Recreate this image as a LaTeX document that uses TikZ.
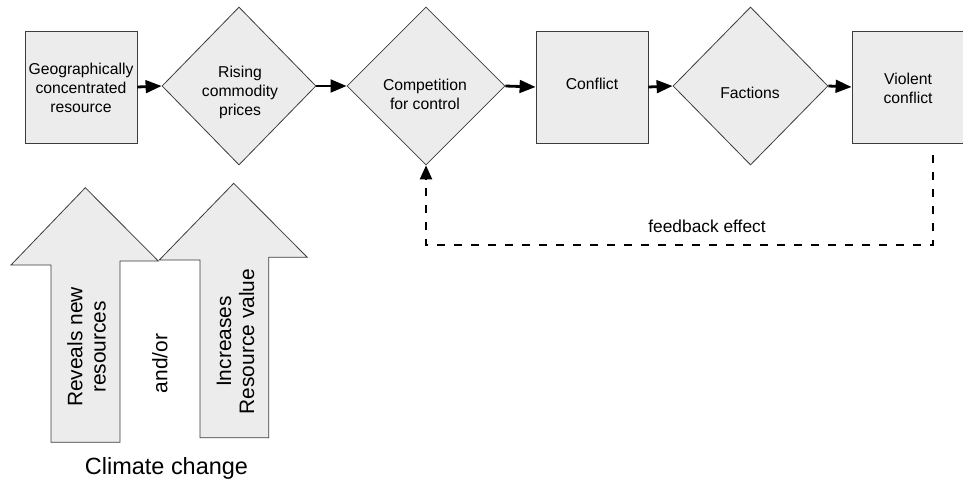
\documentclass[tikz,border=0pt]{standalone}
\usepackage{fontspec}
\setmainfont{Liberation Sans}
\usetikzlibrary{shapes.geometric,arrows.meta}
\definecolor{nodefill}{RGB}{235,236,235}
\definecolor{nodeline}{RGB}{60,60,60}
\begin{document}
\begin{tikzpicture}[x=0.75pt,y=-0.75pt,
  boxnode/.style={draw=nodeline,fill=nodefill,line width=0.6pt,minimum width=84pt,minimum height=84pt,inner sep=0pt},
  dianode/.style={diamond,draw=nodeline,fill=nodefill,line width=0.6pt,inner sep=0pt},
  lbl/.style={align=center,font=\fontsize{11.8}{14.2}\selectfont,inner sep=0pt},
  flow/.style={line width=2.1pt,-{Triangle[length=12pt,width=9.5pt]}},
  fb/.style={line width=1.8pt,dash pattern=on 6pt off 6.75pt,-{Triangle[length=10.5pt,width=9pt]}},
  uparrow/.style={draw=nodeline,fill=nodefill,line width=0.6pt},
  vtext/.style={rotate=90,align=center,font=\fontsize{15.7}{17.3}\selectfont,inner sep=0pt}]
\useasboundingbox (0,0) rectangle (963,481);

% main chain
\node[boxnode] (b1) at (81,87) {};
\node[lbl] (t1) at (81,87.5) {Geographically\\concentrated\\resource};
\node[dianode,minimum width=115.5pt,minimum height=118.5pt] (d1) at (239,86) {};
\node[lbl] (t2) at (240,92.5) {Rising\\commodity\\prices};
\node[dianode,minimum width=118.5pt,minimum height=118.5pt] (d2) at (426,86) {};
\node[lbl] (t3) at (425,94) {Competition\\for control};
\node[boxnode] (b2) at (592,87) {};
\node[lbl] (t4) at (592,83.5) {Conflict};
\node[dianode,minimum width=116.25pt,minimum height=118.5pt] (d3) at (750.5,86) {};
\node[lbl] (t5) at (750,93) {Factions};
\node[boxnode] (b3) at (908,87) {};
\node[lbl] (t6) at (908,88) {Violent\\conflict};

\draw[flow] (b1.east) -- (d1.west);
\draw[flow] (d1.east) -- (d2.west);
\draw[flow] (d2.east) -- (b2.west);
\draw[flow] (b2.east) -- (d3.west);
\draw[flow] (d3.east) -- (b3.west);

% feedback
\coordinate (fbs) at (933,155);
\coordinate (fbc) at (933,245);
\draw[fb] (fbs) -- (fbc) -| (d2.south);
\node[lbl,font=\fontsize{13}{15}\selectfont] (fbl) at (707,226) {feedback effect};

% climate change arrows
\draw[uparrow] (85.3,187.7) -- (158.3,261) -- (120,261) -- (120,442.3) -- (51,442.3) -- (51,265) -- (11,265) -- cycle;
\draw[uparrow] (233.7,183.3) -- (307.3,257.3) -- (268.7,257.3) -- (268.7,437.7) -- (200,437.7) -- (200,260) -- (159.3,260) -- cycle;
\node[vtext] (r1) at (86.5,347) {Reveals new\\resources};
\node[vtext] (r2) at (160,363.5) {and/or};
\node[vtext] (r3) at (235.5,341.5) {Increases\\Resource value};
\node[font=\fontsize{17.6}{20}\selectfont,inner sep=0pt] (cc) at (166.5,468) {Climate change};
\end{tikzpicture}
\end{document}
